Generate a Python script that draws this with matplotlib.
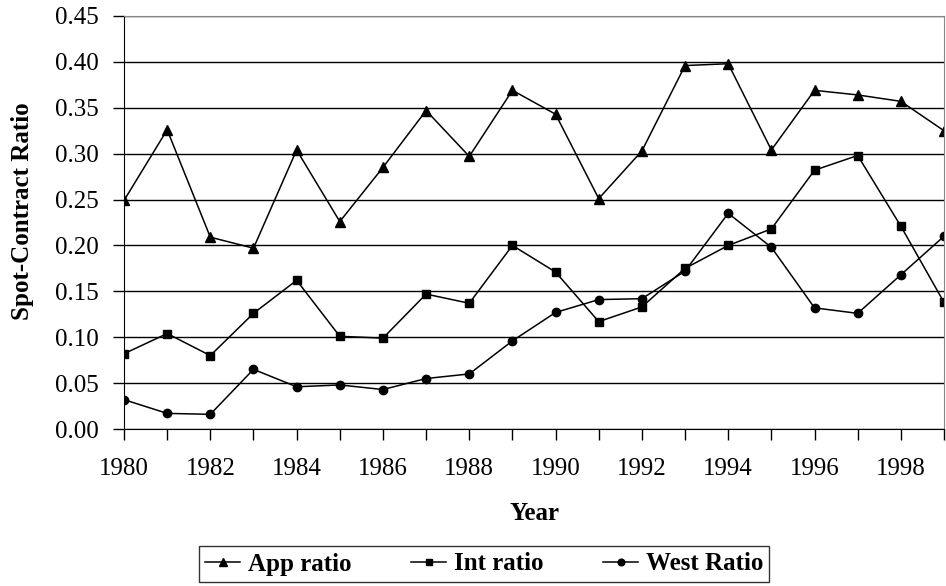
import matplotlib
matplotlib.use("Agg")
import matplotlib.pyplot as plt

plt.rcParams['font.family'] = ['Liberation Serif', 'DejaVu Serif']

years = list(range(1980, 2000))
app_ratio = [0.249, 0.326, 0.209, 0.197, 0.304, 0.226, 0.285, 0.347, 0.297, 0.369,
             0.343, 0.251, 0.303, 0.396, 0.398, 0.304, 0.369, 0.364, 0.357, 0.325]
int_ratio = [0.082, 0.104, 0.080, 0.126, 0.162, 0.101, 0.099, 0.147, 0.137, 0.200,
             0.171, 0.117, 0.133, 0.175, 0.200, 0.218, 0.282, 0.298, 0.221, 0.138]
west_ratio = [0.032, 0.017, 0.016, 0.065, 0.046, 0.048, 0.043, 0.055, 0.060, 0.096,
              0.127, 0.141, 0.142, 0.172, 0.235, 0.198, 0.132, 0.126, 0.168, 0.210]
y_ticks = [0.00, 0.05, 0.10, 0.15, 0.20, 0.25, 0.30, 0.35, 0.40, 0.45]
x_labels = list(range(1980, 2000, 2))

fig = plt.figure(figsize=(9.46, 5.86), dpi=100)
ax = fig.add_axes([124 / 946, 1 - 429 / 586, 820 / 946, 413 / 586])

ax.plot(years, app_ratio, color='black', lw=1.1, marker='^', ms=6.5, label='App ratio')
ax.plot(years, int_ratio, color='black', lw=1.1, marker='s', ms=6, label='Int ratio')
ax.plot(years, west_ratio, color='black', lw=1.1, marker='o', ms=6, label='West Ratio')

ax.set_xlim(1980, 1999)
ax.set_ylim(0, 0.45)
ax.set_yticks(y_ticks)
ax.set_yticklabels([f"{v:.2f}" for v in y_ticks])
ax.set_xticks(years)
ax.set_xticklabels([str(y) if y in x_labels else '' for y in years])
ax.tick_params(axis='both', labelsize=18, direction='out', length=8, width=1, color='black')
ax.tick_params(axis='x', pad=13)
ax.tick_params(axis='y', pad=10)
ax.yaxis.grid(True, color='black', lw=1)
ax.set_axisbelow(True)
for side in ['top', 'right']:
    ax.spines[side].set_color('#888888')
for side in ['left', 'bottom']:
    ax.spines[side].set_color('black')

fig.text(534 / 946, 1 - 514 / 586, 'Year', ha='center', va='center', fontsize=18, fontweight='bold')
fig.text(22 / 946, 1 - 211 / 586, 'Spot-Contract Ratio', ha='center', va='center',
         rotation=90, fontsize=18, fontweight='bold')

leg = fig.legend(loc='center', bbox_to_anchor=(484 / 946, 1 - 564 / 586), ncol=3,
                 prop={'size': 18, 'weight': 'bold'}, frameon=True, fancybox=False,
                 edgecolor='black', markerscale=0.8, handlelength=1.4, handletextpad=0.3,
                 columnspacing=2.4, borderpad=0.25)
leg.get_frame().set_linewidth(1)

fig.savefig('out.png', dpi=100)
